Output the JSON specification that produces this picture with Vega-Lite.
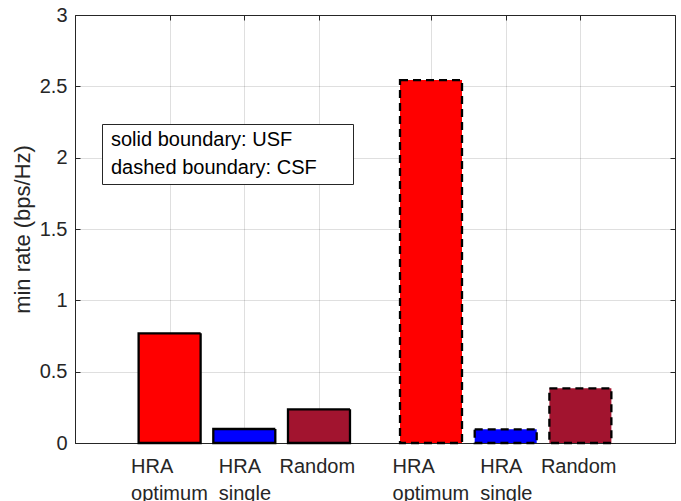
{
  "$schema": "https://vega.github.io/schema/vega-lite/v6.json",
  "autosize": "none",
  "width": 600,
  "height": 428,
  "padding": {"left": 75, "top": 15, "right": 6, "bottom": 58},
  "background": "white",
  "config": {
    "view": {"stroke": "#262626", "strokeWidth": 1},
    "font": "Liberation Sans",
    "axis": {
      "labelFont": "Liberation Sans",
      "labelFontSize": 20,
      "labelColor": "#262626",
      "titleFont": "Liberation Sans",
      "titleFontSize": 22,
      "titleFontWeight": "normal",
      "titleColor": "#262626",
      "domainColor": "#262626",
      "tickColor": "#262626",
      "gridColor": "#262626",
      "gridOpacity": 0.15,
      "gridWidth": 1
    },
    "legend": {
      "labelFont": "Liberation Sans",
      "labelFontSize": 20,
      "labelColor": "#000000"
    }
  },
  "data": {
    "values": [
      {"pos": 1, "method": "HRA optimum", "boundary": "USF", "rate": 0.769},
      {"pos": 2, "method": "HRA single", "boundary": "USF", "rate": 0.098},
      {"pos": 3, "method": "Random", "boundary": "USF", "rate": 0.236},
      {"pos": 4.5, "method": "HRA optimum", "boundary": "CSF", "rate": 2.544},
      {"pos": 5.5, "method": "HRA single", "boundary": "CSF", "rate": 0.096},
      {"pos": 6.5, "method": "Random", "boundary": "CSF", "rate": 0.383}
    ]
  },
  "layer": [
    {
      "mark": {"type": "bar", "size": 62, "stroke": "#000000", "strokeWidth": 2.3},
      "encoding": {
        "x": {
          "field": "pos",
          "type": "quantitative",
          "scale": {"domain": [-0.2, 7.7], "nice": false, "zero": false},
          "axis": {
            "title": null,
            "orient": "bottom",
            "values": [1, 2, 3, 4.5, 5.5, 6.5],
            "labelExpr": "(datum.value == 1 || datum.value == 4.5) ? ['HRA', 'optimum'] : (datum.value == 2 || datum.value == 5.5) ? ['HRA', 'single'] : ['Random']",
            "labelAlign": "left",
            "labelBaseline": "top",
            "labelLineHeight": 27,
            "labelPadding": 18,
            "labelOffset": {
              "condition": [
                {"test": "datum.value == 1 || datum.value == 4.5", "value": -39},
                {"test": "datum.value == 2 || datum.value == 5.5", "value": -26}
              ],
              "value": -40
            },
            "tickSize": -5,
            "grid": true,
            "labelFlush": false,
            "labelOverlap": false
          }
        },
        "y": {
          "field": "rate",
          "type": "quantitative",
          "scale": {"domain": [0, 3], "nice": false},
          "axis": {
            "title": "min rate (bps/Hz)",
            "orient": "left",
            "values": [0, 0.5, 1, 1.5, 2, 2.5, 3],
            "format": "~g",
            "tickSize": -5,
            "labelPadding": 13,
            "grid": true,
            "titlePadding": 5
          }
        },
        "fill": {
          "field": "method",
          "type": "nominal",
          "scale": {"domain": ["HRA optimum", "HRA single", "Random"], "range": ["#FF0000", "#0000FF", "#A2142F"]},
          "legend": null
        },
        "strokeDash": {
          "field": "boundary",
          "type": "nominal",
          "scale": {"domain": ["USF", "CSF"], "range": [[1, 0], [8, 5]]},
          "legend": {
            "title": null,
            "orient": "none",
            "legendX": 27,
            "legendY": 109,
            "direction": "vertical",
            "strokeColor": "#262626",
            "fillColor": "#FFFFFF",
            "padding": 6,
            "rowPadding": 8,
            "symbolType": "circle",
            "symbolSize": 0,
            "symbolStrokeWidth": 0,
            "symbolOpacity": 0,
            "labelOffset": -17,
            "labelLimit": 400,
            "labelExpr": "datum.label == 'USF' ? 'solid boundary: USF' : 'dashed boundary: CSF\u2800\u2800'"
          }
        }
      }
    },
    {
      "mark": {"type": "bar", "size": 62, "opacity": 0},
      "encoding": {
        "x": {
          "field": "pos",
          "type": "quantitative",
          "axis": {
            "orient": "top",
            "title": null,
            "values": [1, 2, 3, 4.5, 5.5, 6.5],
            "labels": false,
            "tickSize": -5,
            "grid": false,
            "domain": false
          }
        },
        "y": {
          "field": "rate",
          "type": "quantitative",
          "axis": {
            "orient": "right",
            "title": null,
            "values": [0, 0.5, 1, 1.5, 2, 2.5, 3],
            "labels": false,
            "tickSize": -5,
            "grid": false,
            "domain": false
          }
        }
      }
    }
  ],
  "resolve": {"axis": {"x": "independent", "y": "independent"}}
}
